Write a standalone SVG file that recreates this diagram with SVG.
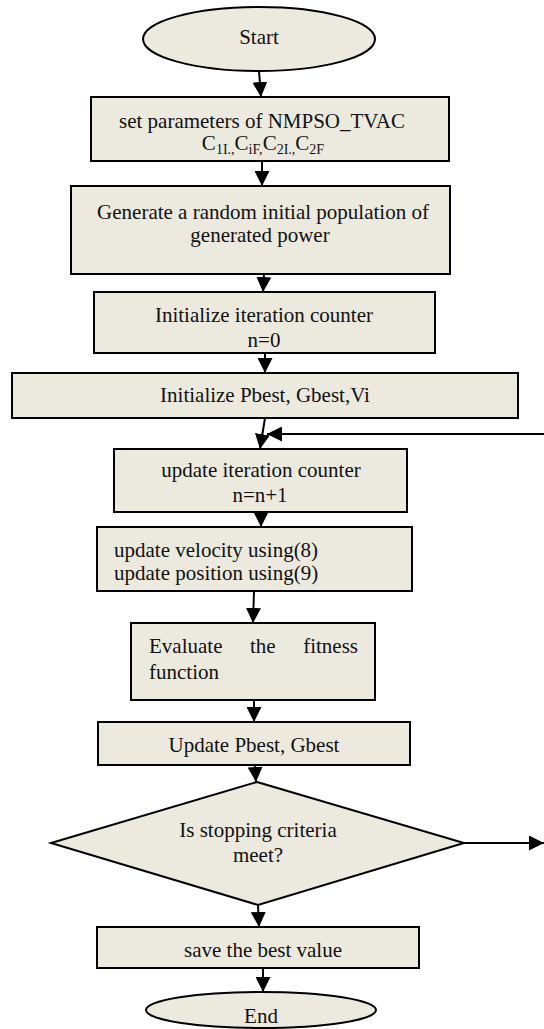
<svg xmlns="http://www.w3.org/2000/svg" width="544" height="1029" viewBox="0 0 544 1029">
<style>
.n{fill:#ECEADF;stroke:#000;stroke-width:2}
.t{font-family:"Liberation Serif","Times New Roman",serif;font-size:21px;fill:#111;text-anchor:middle}
.l{text-anchor:start}
.e{text-anchor:end}
.c{stroke:#000;stroke-width:2;fill:none;marker-end:url(#ah)}
</style>
<defs>
<marker id="ah" markerUnits="userSpaceOnUse" markerWidth="15" markerHeight="15" refX="15" refY="7.5" orient="auto" viewBox="0 0 15 15">
<path d="M0,0 L15,7.5 L0,15 z" fill="#000"/>
</marker>
</defs>
<rect width="544" height="1029" fill="#fff"/>
<g id="connectors">
<line class="c" x1="259" y1="71" x2="261" y2="97"/>
<line class="c" x1="262" y1="161" x2="262" y2="186"/>
<line class="c" x1="264" y1="274" x2="263" y2="292"/>
<line class="c" x1="265" y1="353" x2="265" y2="373"/>
<line class="c" x1="265" y1="418" x2="260" y2="449"/>
<line class="c" x1="544" y1="434" x2="267" y2="434"/>
<line class="c" x1="261" y1="512" x2="261" y2="527"/>
<line class="c" x1="254" y1="591" x2="253" y2="623"/>
<line class="c" x1="254" y1="700" x2="254" y2="722"/>
<line class="c" x1="255" y1="765" x2="256" y2="782"/>
<line class="c" x1="464" y1="843" x2="544" y2="843"/>
<line class="c" x1="258" y1="905" x2="259" y2="927"/>
<line class="c" x1="263" y1="968" x2="263" y2="992"/>
</g>
<g id="start">
<ellipse class="n" cx="259" cy="39" rx="116" ry="32"/>
<text class="t" x="259" y="44">Start</text>
</g>
<g id="setParams">
<rect class="n" x="91" y="97" width="358" height="64"/>
<text class="t" x="262" y="128">set parameters of NMPSO_TVAC</text>
<text class="t" x="263" y="150" font-size="20">C<tspan font-size="14" dy="4">1I.,</tspan><tspan dy="-4">C</tspan><tspan font-size="14" dy="4">iF,</tspan><tspan dy="-4">C</tspan><tspan font-size="14" dy="4">2I.,</tspan><tspan dy="-4">C</tspan><tspan font-size="14" dy="4">2F</tspan></text>
</g>
<g id="generate">
<rect class="n" x="71" y="186" width="379" height="88"/>
<text class="t" x="263" y="219">Generate a random initial population of</text>
<text class="t" x="260" y="242">generated power</text>
</g>
<g id="initCounter">
<rect class="n" x="94" y="292" width="341" height="61"/>
<text class="t" x="264" y="322">Initialize iteration counter</text>
<text class="t" x="264" y="347">n=0</text>
</g>
<g id="initPbest">
<rect class="n" x="12" y="373" width="506" height="45"/>
<text class="t" x="265" y="402">Initialize Pbest, Gbest,Vi</text>
</g>
<g id="updateCounter">
<rect class="n" x="114" y="449" width="293" height="63"/>
<text class="t" x="261" y="477">update iteration counter</text>
<text class="t" x="260" y="502">n=n+1</text>
</g>
<g id="updateVel">
<rect class="n" x="97" y="527" width="315" height="64"/>
<text class="t l" x="114" y="557">update velocity using(8)</text>
<text class="t l" x="114" y="580">update position using(9)</text>
</g>
<g id="evaluate">
<rect class="n" x="131" y="623" width="244" height="77"/>
<text class="t l" x="149" y="653">Evaluate</text>
<text class="t l" x="250" y="653">the</text>
<text class="t e" x="358" y="653">fitness</text>
<text class="t l" x="149" y="679">function</text>
</g>
<g id="updatePbest">
<rect class="n" x="98" y="722" width="312" height="43"/>
<text class="t" x="254" y="752">Update Pbest, Gbest</text>
</g>
<g id="decision">
<polygon class="n" points="257,782 464,843 258,905 51,843"/>
<text class="t" x="258" y="837">Is stopping criteria</text>
<text class="t" x="258" y="862">meet?</text>
</g>
<g id="save">
<rect class="n" x="97" y="927" width="322" height="41"/>
<text class="t" x="263" y="957">save the best value</text>
</g>
<g id="end">
<ellipse class="n" cx="261" cy="1010" rx="115" ry="18"/>
<text class="t" x="261" y="1023">End</text>
</g>
</svg>
